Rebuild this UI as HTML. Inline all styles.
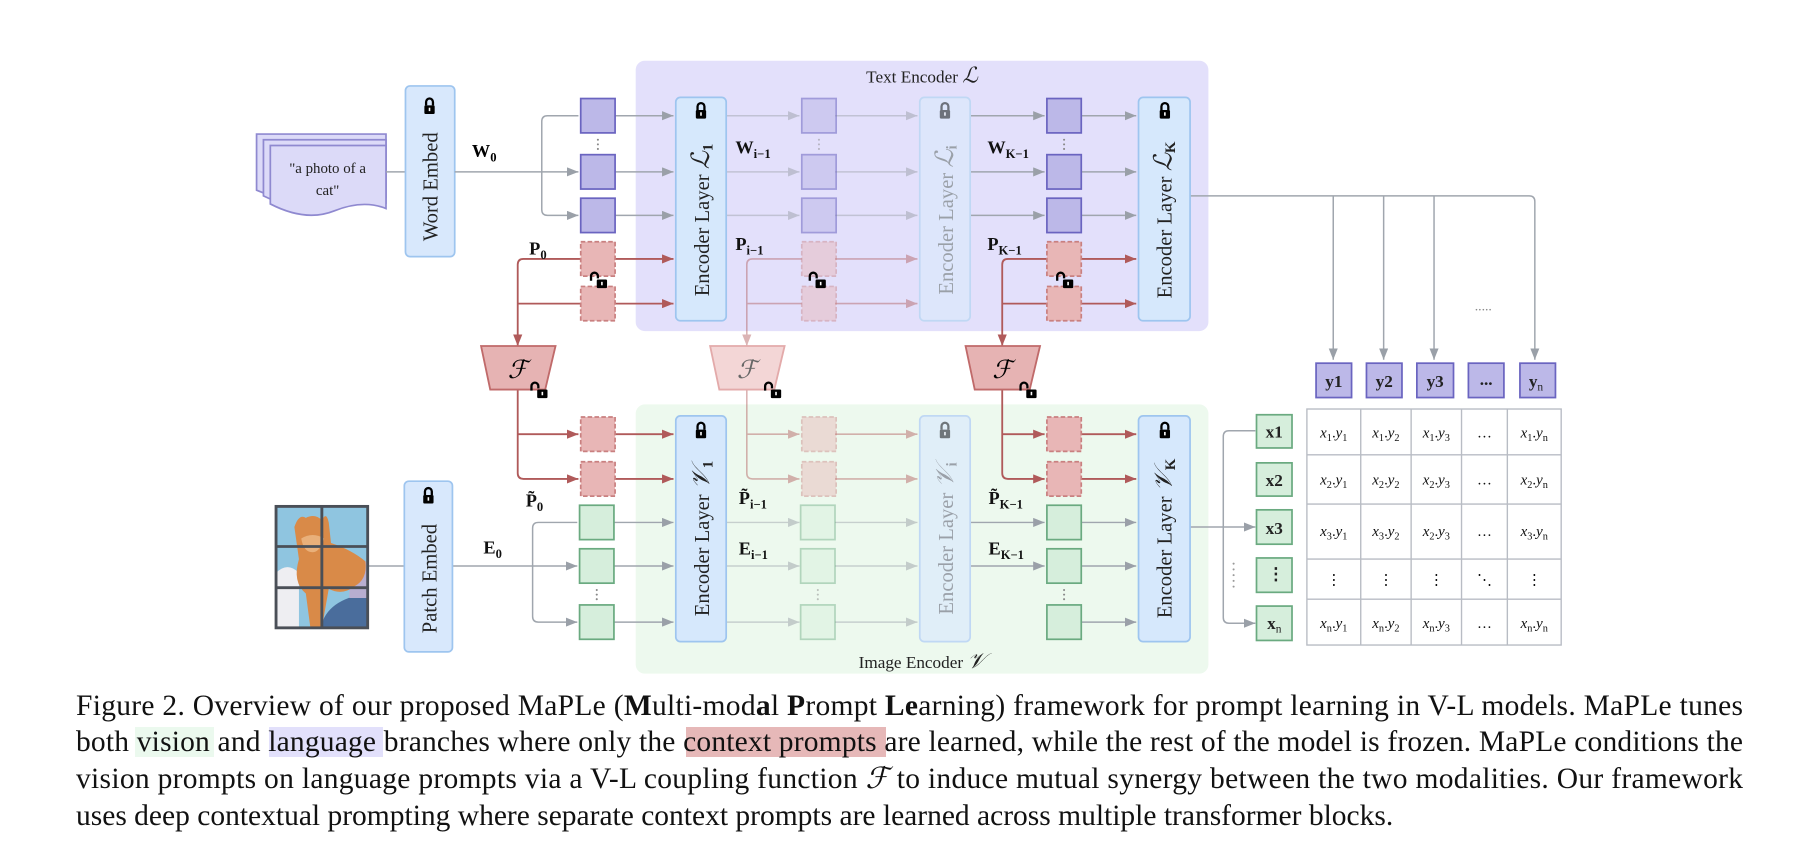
<!DOCTYPE html>
<html><head><meta charset="utf-8"><style>
html,body{margin:0;padding:0;background:#fff;}
svg{display:block;}
text{font-family:"Liberation Serif","DejaVu Serif",serif;}
</style></head><body>
<svg width="1796" height="857" viewBox="0 0 1796 857" xmlns="http://www.w3.org/2000/svg">
<defs>
<marker id="ag" viewBox="0 0 10 8" refX="10" refY="4" markerWidth="10" markerHeight="8" markerUnits="userSpaceOnUse" orient="auto"><path d="M0,0L10,4L0,8z" fill="#9aa0a8"/></marker>
<marker id="ar" viewBox="0 0 10 8" refX="10" refY="4" markerWidth="10" markerHeight="8" markerUnits="userSpaceOnUse" orient="auto"><path d="M0,0L10,4L0,8z" fill="#b05a5a"/></marker>
<g id="lock"><path d="M-3,0 v-3 a3,3 0 0 1 6,0 v3" fill="none" stroke="#000" stroke-width="2"/><rect x="-4.5" y="0" width="9" height="7.5" rx="1" fill="#000"/><rect x="-0.7" y="2" width="1.4" height="3" fill="#fff"/></g>
<g id="unlock"><path d="M-7,1 v-4 a3,3 0 0 1 6,0 v2" fill="none" stroke="#000" stroke-width="2"/><rect x="-2" y="0" width="9" height="7.5" rx="1" fill="#000"/><rect x="1.8" y="2" width="1.4" height="3" fill="#fff"/></g>
</defs>

<g transform="scale(1.1454,1.1457)">
<rect x="555" y="53" width="500" height="236" rx="8" fill="#e3e0fb"/>
<rect x="555" y="353" width="500" height="235" rx="8" fill="#edf9ee"/>
<text x="805" y="72" text-anchor="middle" font-size="15" fill="#222">Text Encoder <tspan font-style="italic" font-size="19">ℒ</tspan></text>
<text x="805" y="583" text-anchor="middle" font-size="15" fill="#222">Image Encoder <tspan font-style="italic" font-size="19">𝒱</tspan></text>

<g fill="#dcdaf8" stroke="#8f89d0" stroke-width="1.5">
<path d="M224,117 h113 v55 q-20,-8 -45,2 t-68,-8 z"/>
<path d="M230,122 h107 v55 q-20,-8 -45,2 t-62,-8 z"/>
<path d="M236,127 h101 v55 q-20,-8 -45,2 t-56,-6 z"/>
</g>
<text x="286" y="151" text-anchor="middle" font-size="13" fill="#222">"a photo of a</text>
<text x="286" y="170" text-anchor="middle" font-size="13" fill="#222">cat"</text>
<line x1="337" y1="150" x2="354" y2="150" stroke="#a0a6ae" stroke-width="1.3"/>

<rect x="354" y="75" width="43" height="149" rx="4" fill="#d8e8fc" stroke="#9ec5ef" stroke-width="1.5"/>
<text transform="translate(382,163) rotate(-90)" text-anchor="middle" font-size="18" fill="#222">Word Embed</text>
<use href="#lock" x="375" y="92"/>
<text x="412" y="137" font-size="16" font-weight="bold">W<tspan font-size="11" dy="4">0</tspan></text>

<g fill="none" stroke="#a0a6ae" stroke-width="1.3">
<path d="M397,150 H505" marker-end="url(#ag)"/>
<path d="M505,101 H478 q-5,0 -5,5 V183 q0,5 5,5 H505" marker-end="url(#ag)"/>
<path d="M537,101 H588" marker-end="url(#ag)"/>
<path d="M537,150 H588" marker-end="url(#ag)"/>
<path d="M537,188 H588" marker-end="url(#ag)"/>
<path d="M847,101 H912" marker-end="url(#ag)"/>
<path d="M847,150 H912" marker-end="url(#ag)"/>
<path d="M847,188 H912" marker-end="url(#ag)"/>
<path d="M944,101 H992" marker-end="url(#ag)"/>
<path d="M944,150 H992" marker-end="url(#ag)"/>
<path d="M944,188 H992" marker-end="url(#ag)"/>
<path d="M321,494 H353"/>
<path d="M395,494 H504" marker-end="url(#ag)"/>
<path d="M504,456 H470 q-5,0 -5,5 V538 q0,5 5,5 H504" marker-end="url(#ag)"/>
<path d="M536,456 H588" marker-end="url(#ag)"/>
<path d="M536,494 H588" marker-end="url(#ag)"/>
<path d="M536,543 H588" marker-end="url(#ag)"/>
<path d="M847,456 H912" marker-end="url(#ag)"/>
<path d="M847,494 H912" marker-end="url(#ag)"/>
<path d="M944,456 H992" marker-end="url(#ag)"/>
<path d="M944,494 H992" marker-end="url(#ag)"/>
<path d="M944,543 H992" marker-end="url(#ag)"/>
<path d="M1039,171 H1335 q5,0 5,5 V314" marker-end="url(#ag)"/>
<path d="M1164,171 V314" marker-end="url(#ag)"/>
<path d="M1208,171 V314" marker-end="url(#ag)"/>
<path d="M1252,171 V314" marker-end="url(#ag)"/>
<path d="M1039,460 H1068"/>
<path d="M1096,376 H1073 q-5,0 -5,5 V539 q0,5 5,5 H1096" marker-end="url(#ag)"/>
<path d="M1068,460 H1096" marker-end="url(#ag)"/>
</g>
<text x="1295" y="271" text-anchor="middle" font-size="12" fill="#888">.....</text>
<g fill="#999"><circle cx="1077" cy="492" r="0.9"/><circle cx="1077" cy="497" r="0.9"/><circle cx="1077" cy="502" r="0.9"/><circle cx="1077" cy="507" r="0.9"/><circle cx="1077" cy="512" r="0.9"/></g>

<g fill="none" stroke="#a0a6ae" stroke-width="1.3" opacity="0.5">
<path d="M634,101 H698" marker-end="url(#ag)"/>
<path d="M634,150 H698" marker-end="url(#ag)"/>
<path d="M634,188 H698" marker-end="url(#ag)"/>
<path d="M729,101 H801" marker-end="url(#ag)"/>
<path d="M729,150 H801" marker-end="url(#ag)"/>
<path d="M729,188 H801" marker-end="url(#ag)"/>
<path d="M634,456 H698" marker-end="url(#ag)"/>
<path d="M634,494 H698" marker-end="url(#ag)"/>
<path d="M729,456 H801" marker-end="url(#ag)"/>
<path d="M729,494 H801" marker-end="url(#ag)"/>
<path d="M634,543 H698" marker-end="url(#ag)"/>
<path d="M729,543 H801" marker-end="url(#ag)"/>
</g>

<g fill="none" stroke="#b05a5a" stroke-width="1.6">
<path d="M537,226 H588" marker-end="url(#ar)"/>
<path d="M537,265 H588" marker-end="url(#ar)"/>
<path d="M507,226 H457 q-5,0 -5,5 V302" marker-end="url(#ar)"/>
<path d="M507,265 H452"/>
<path d="M944,226 H992" marker-end="url(#ar)"/>
<path d="M944,265 H992" marker-end="url(#ar)"/>
<path d="M914,226 H880 q-5,0 -5,5 V302" marker-end="url(#ar)"/>
<path d="M914,265 H875"/>
<path d="M452,340 V413 q0,5 5,5 H505" marker-end="url(#ar)"/>
<path d="M452,379 H505" marker-end="url(#ar)"/>
<path d="M537,379 H588" marker-end="url(#ar)"/>
<path d="M537,418 H588" marker-end="url(#ar)"/>
<path d="M875,340 V413 q0,5 5,5 H912" marker-end="url(#ar)"/>
<path d="M875,379 H912" marker-end="url(#ar)"/>
<path d="M944,379 H992" marker-end="url(#ar)"/>
<path d="M944,418 H992" marker-end="url(#ar)"/>
</g>
<g fill="none" stroke="#b05a5a" stroke-width="1.4" opacity="0.45">
<path d="M729,226 H801" marker-end="url(#ar)"/>
<path d="M729,265 H801" marker-end="url(#ar)"/>
<path d="M700,226 H657 q-5,0 -5,5 V302" marker-end="url(#ar)"/>
<path d="M700,265 H652"/>
<path d="M652,340 V413 q0,5 5,5 H698" marker-end="url(#ar)"/>
<path d="M652,379 H698" marker-end="url(#ar)"/>
<path d="M729,379 H801" marker-end="url(#ar)"/>
<path d="M729,418 H801" marker-end="url(#ar)"/>
</g>

<g fill="#bcb8e8" stroke="#6a64c0" stroke-width="1.5">
<rect x="507" y="86" width="30" height="30"/><rect x="507" y="135" width="30" height="30"/><rect x="507" y="173" width="30" height="30"/>
<rect x="914" y="86" width="30" height="30"/><rect x="914" y="135" width="30" height="30"/><rect x="914" y="173" width="30" height="30"/>
</g>
<g fill="#bcb8e8" stroke="#6a64c0" stroke-width="1.5" opacity="0.55">
<rect x="700" y="86" width="30" height="30"/><rect x="700" y="135" width="30" height="30"/><rect x="700" y="173" width="30" height="30"/>
</g>
<g fill="#e8b6b6" stroke="#c98080" stroke-width="1.5" stroke-dasharray="4,2">
<rect x="507" y="211" width="30" height="30"/><rect x="507" y="250" width="30" height="30"/>
<rect x="914" y="211" width="30" height="30"/><rect x="914" y="250" width="30" height="30"/>
<rect x="507" y="364" width="30" height="30"/><rect x="507" y="403" width="30" height="30"/>
<rect x="914" y="364" width="30" height="30"/><rect x="914" y="403" width="30" height="30"/>
</g>
<g fill="#e8b6b6" stroke="#c98080" stroke-width="1.5" stroke-dasharray="4,2" opacity="0.45">
<rect x="700" y="211" width="30" height="30"/><rect x="700" y="250" width="30" height="30"/>
<rect x="700" y="364" width="30" height="30"/><rect x="700" y="403" width="30" height="30"/>
</g>
<g fill="#d6eedc" stroke="#6aaa80" stroke-width="1.5">
<rect x="506" y="441" width="30" height="30"/><rect x="506" y="479" width="30" height="30"/><rect x="506" y="528" width="30" height="30"/>
<rect x="914" y="441" width="30" height="30"/><rect x="914" y="479" width="30" height="30"/><rect x="914" y="528" width="30" height="30"/>
</g>
<g fill="#d6eedc" stroke="#6aaa80" stroke-width="1.5" opacity="0.45">
<rect x="699" y="441" width="30" height="30"/><rect x="699" y="479" width="30" height="30"/><rect x="699" y="528" width="30" height="30"/>
</g>
<g fill="#888">
<circle cx="522" cy="122" r="0.9"/><circle cx="522" cy="126" r="0.9"/><circle cx="522" cy="130" r="0.9"/>
<circle cx="929" cy="122" r="0.9"/><circle cx="929" cy="126" r="0.9"/><circle cx="929" cy="130" r="0.9"/>
<circle cx="715" cy="122" r="0.9" opacity="0.5"/><circle cx="715" cy="126" r="0.9" opacity="0.5"/><circle cx="715" cy="130" r="0.9" opacity="0.5"/>
<circle cx="521" cy="515" r="0.9"/><circle cx="521" cy="519" r="0.9"/><circle cx="521" cy="523" r="0.9"/>
<circle cx="929" cy="515" r="0.9"/><circle cx="929" cy="519" r="0.9"/><circle cx="929" cy="523" r="0.9"/>
<circle cx="714" cy="515" r="0.9" opacity="0.5"/><circle cx="714" cy="519" r="0.9" opacity="0.5"/><circle cx="714" cy="523" r="0.9" opacity="0.5"/>
</g>
<use href="#unlock" x="523" y="244"/>
<use href="#unlock" x="714" y="244"/>
<use href="#unlock" x="930" y="244"/>

<g stroke-width="1.5">
<rect x="590" y="85" width="44" height="195" rx="4" fill="#d6e8fc" stroke="#9ec5ef"/>
<rect x="803" y="85" width="44" height="195" rx="4" fill="#dde6fb" stroke="#c0d8f4"/>
<rect x="994" y="85" width="45" height="195" rx="4" fill="#d6e8fc" stroke="#9ec5ef"/>
<rect x="590" y="363" width="44" height="197" rx="4" fill="#d6e8fc" stroke="#9ec5ef"/>
<rect x="803" y="363" width="44" height="197" rx="4" fill="#e0eef8" stroke="#c0d8f4"/>
<rect x="994" y="363" width="45" height="197" rx="4" fill="#d6e8fc" stroke="#9ec5ef"/>
</g>
<g font-size="18" fill="#222" text-anchor="middle">
<text transform="translate(619,192) rotate(-90)">Encoder Layer <tspan font-style="italic" font-size="22">ℒ</tspan><tspan font-size="13" font-weight="bold" dy="3">1</tspan></text>
<text transform="translate(832,192) rotate(-90)" fill="#9aa0a8">Encoder Layer <tspan font-style="italic" font-size="22">ℒ</tspan><tspan font-size="13" font-weight="bold" dy="3">i</tspan></text>
<text transform="translate(1023,192) rotate(-90)">Encoder Layer <tspan font-style="italic" font-size="22">ℒ</tspan><tspan font-size="13" font-weight="bold" dy="3">K</tspan></text>
<text transform="translate(619,470) rotate(-90)">Encoder Layer <tspan font-style="italic" font-size="22">𝒱</tspan><tspan font-size="13" font-weight="bold" dy="3">1</tspan></text>
<text transform="translate(832,470) rotate(-90)" fill="#9aa0a8">Encoder Layer <tspan font-style="italic" font-size="22">𝒱</tspan><tspan font-size="13" font-weight="bold" dy="3">i</tspan></text>
<text transform="translate(1023,470) rotate(-90)">Encoder Layer <tspan font-style="italic" font-size="22">𝒱</tspan><tspan font-size="13" font-weight="bold" dy="3">K</tspan></text>
</g>
<use href="#lock" x="612" y="96"/>
<use href="#lock" x="825" y="96" opacity="0.5"/>
<use href="#lock" x="1017" y="96"/>
<use href="#lock" x="612" y="375"/>
<use href="#lock" x="825" y="375" opacity="0.5"/>
<use href="#lock" x="1017" y="375"/>

<g stroke-width="1.6">
<path d="M420,302 H485 L476,340 H428 Z" fill="#e6b3b3" stroke="#c06a6a"/>
<path d="M620,302 H685 L676,340 H628 Z" fill="#f3d6d6" stroke="#e3aaaa"/>
<path d="M843,302 H908 L899,340 H851 Z" fill="#e6b3b3" stroke="#c06a6a"/>
</g>
<text x="452" y="330" text-anchor="middle" font-size="22" font-style="italic">ℱ</text>
<text x="652" y="330" text-anchor="middle" font-size="22" font-style="italic" fill="#666">ℱ</text>
<text x="875" y="330" text-anchor="middle" font-size="22" font-style="italic">ℱ</text>
<use href="#unlock" x="471" y="340"/>
<use href="#unlock" x="675" y="340"/>
<use href="#unlock" x="898" y="340"/>

<g font-size="16" font-weight="bold" fill="#111">
<text x="462" y="222">P<tspan font-size="11" dy="4">0</tspan></text>
<text x="642" y="134">W<tspan font-size="11" dy="4">i−1</tspan></text>
<text x="642" y="218">P<tspan font-size="11" dy="4">i−1</tspan></text>
<text x="862" y="134">W<tspan font-size="11" dy="4">K−1</tspan></text>
<text x="862" y="218">P<tspan font-size="11" dy="4">K−1</tspan></text>
<text x="459" y="442">P̃<tspan font-size="11" dy="4">0</tspan></text>
<text x="422" y="483">E<tspan font-size="11" dy="4">0</tspan></text>
<text x="645" y="440">P̃<tspan font-size="11" dy="4">i−1</tspan></text>
<text x="645" y="484">E<tspan font-size="11" dy="4">i−1</tspan></text>
<text x="863" y="440">P̃<tspan font-size="11" dy="4">K−1</tspan></text>
<text x="863" y="484">E<tspan font-size="11" dy="4">K−1</tspan></text>
</g>

<g>
<rect x="241" y="442" width="80" height="106" fill="#8fc5e0"/>
<path d="M241,500 q10,-10 20,0 v48 h-20z" fill="#eeeef2"/>
<path d="M280,548 q5,-25 41,-30 v30z" fill="#4a6d9c"/>
<path d="M305,492 q10,-8 16,0 v30 h-16z" fill="#b8aed0"/>
<path d="M257,460 q4,-12 10,-8 q8,-4 14,2 q4,-8 6,2 l2,18 q18,6 30,16 q2,16 -10,22 q-10,8 -22,2 l-6,34 h-10 l-4,-30 q-12,-10 -6,-30 z" fill="#d98a48"/>
<path d="M263,470 q10,-6 20,0 q-4,12 -10,12 q-8,0 -10,-12z" fill="#e9b07a"/>
<g stroke="#4a4f57" stroke-width="2.5" fill="none">
<rect x="241" y="442" width="80" height="106"/>
<line x1="281" y1="442" x2="281" y2="548"/>
<line x1="241" y1="477" x2="321" y2="477"/>
<line x1="241" y1="513" x2="321" y2="513"/>
</g>
</g>

<rect x="353" y="420" width="42" height="149" rx="4" fill="#d8e8fc" stroke="#9ec5ef" stroke-width="1.5"/>
<text transform="translate(381,505) rotate(-90)" text-anchor="middle" font-size="18" fill="#222">Patch Embed</text>
<use href="#lock" x="374" y="432"/>

<g fill="#bcb8e8" stroke="#6a64c0" stroke-width="1.5">
<rect x="1149" y="317" width="31" height="30"/><rect x="1193" y="317" width="31" height="30"/><rect x="1237" y="317" width="32" height="30"/><rect x="1282" y="317" width="31" height="30"/><rect x="1327" y="317" width="31" height="30"/>
</g>
<g font-size="15" font-weight="bold" fill="#222" text-anchor="middle">
<text x="1164.5" y="338">y1</text><text x="1208.5" y="338">y2</text><text x="1253" y="338">y3</text><text x="1297.5" y="336">...</text><text x="1341" y="338">y<tspan font-size="10" dy="3" font-weight="normal">n</tspan></text>
</g>
<g fill="#d6eedc" stroke="#6aaa80" stroke-width="1.5">
<rect x="1097" y="362" width="31" height="29"/><rect x="1097" y="404" width="31" height="29"/><rect x="1097" y="445" width="31" height="30"/><rect x="1097" y="487" width="31" height="30"/><rect x="1097" y="529" width="31" height="30"/>
</g>
<g font-size="15" font-weight="bold" fill="#222" text-anchor="middle">
<text x="1112.5" y="382">x1</text><text x="1112.5" y="424">x2</text><text x="1112.5" y="466">x3</text><text x="1114" y="506">⋮</text><text x="1112.5" y="549">x<tspan font-size="10" dy="3" font-weight="normal">n</tspan></text>
</g>

<g stroke="#b8bcc4" stroke-width="1.2" fill="none">
<rect x="1141" y="357" width="222" height="206" fill="#fff"/>
<line x1="1188" y1="357" x2="1188" y2="563"/><line x1="1232" y1="357" x2="1232" y2="563"/><line x1="1276" y1="357" x2="1276" y2="563"/><line x1="1316" y1="357" x2="1316" y2="563"/>
<line x1="1141" y1="397" x2="1363" y2="397"/><line x1="1141" y1="440" x2="1363" y2="440"/><line x1="1141" y1="488" x2="1363" y2="488"/><line x1="1141" y1="523" x2="1363" y2="523"/>
</g>
<g font-family="'DejaVu Sans',sans-serif" font-size="13" fill="#111" text-anchor="middle">
<text x="1164.5" y="382"><tspan font-style="italic">x</tspan><tspan font-size="9" dy="3">1</tspan><tspan dy="-3">.</tspan><tspan font-style="italic">y</tspan><tspan font-size="9" dy="3">1</tspan></text>
<text x="1210" y="382"><tspan font-style="italic">x</tspan><tspan font-size="9" dy="3">1</tspan><tspan dy="-3">.</tspan><tspan font-style="italic">y</tspan><tspan font-size="9" dy="3">2</tspan></text>
<text x="1254" y="382"><tspan font-style="italic">x</tspan><tspan font-size="9" dy="3">1</tspan><tspan dy="-3">.</tspan><tspan font-style="italic">y</tspan><tspan font-size="9" dy="3">3</tspan></text>
<text x="1296" y="382">…</text>
<text x="1339.5" y="382"><tspan font-style="italic">x</tspan><tspan font-size="9" dy="3">1</tspan><tspan dy="-3">.</tspan><tspan font-style="italic">y</tspan><tspan font-size="9" dy="3">n</tspan></text>
<text x="1164.5" y="423"><tspan font-style="italic">x</tspan><tspan font-size="9" dy="3">2</tspan><tspan dy="-3">.</tspan><tspan font-style="italic">y</tspan><tspan font-size="9" dy="3">1</tspan></text>
<text x="1210" y="423"><tspan font-style="italic">x</tspan><tspan font-size="9" dy="3">2</tspan><tspan dy="-3">.</tspan><tspan font-style="italic">y</tspan><tspan font-size="9" dy="3">2</tspan></text>
<text x="1254" y="423"><tspan font-style="italic">x</tspan><tspan font-size="9" dy="3">2</tspan><tspan dy="-3">.</tspan><tspan font-style="italic">y</tspan><tspan font-size="9" dy="3">3</tspan></text>
<text x="1296" y="423">…</text>
<text x="1339.5" y="423"><tspan font-style="italic">x</tspan><tspan font-size="9" dy="3">2</tspan><tspan dy="-3">.</tspan><tspan font-style="italic">y</tspan><tspan font-size="9" dy="3">n</tspan></text>
<text x="1164.5" y="468"><tspan font-style="italic">x</tspan><tspan font-size="9" dy="3">3</tspan><tspan dy="-3">.</tspan><tspan font-style="italic">y</tspan><tspan font-size="9" dy="3">1</tspan></text>
<text x="1210" y="468"><tspan font-style="italic">x</tspan><tspan font-size="9" dy="3">3</tspan><tspan dy="-3">.</tspan><tspan font-style="italic">y</tspan><tspan font-size="9" dy="3">2</tspan></text>
<text x="1254" y="468"><tspan font-style="italic">x</tspan><tspan font-size="9" dy="3">2</tspan><tspan dy="-3">.</tspan><tspan font-style="italic">y</tspan><tspan font-size="9" dy="3">3</tspan></text>
<text x="1296" y="468">…</text>
<text x="1339.5" y="468"><tspan font-style="italic">x</tspan><tspan font-size="9" dy="3">3</tspan><tspan dy="-3">.</tspan><tspan font-style="italic">y</tspan><tspan font-size="9" dy="3">n</tspan></text>
<text x="1164.5" y="510">⋮</text><text x="1210" y="510">⋮</text><text x="1254" y="510">⋮</text><text x="1296" y="510">⋱</text><text x="1339.5" y="510">⋮</text>
<text x="1164.5" y="548"><tspan font-style="italic">x</tspan><tspan font-size="9" dy="3">n</tspan><tspan dy="-3">.</tspan><tspan font-style="italic">y</tspan><tspan font-size="9" dy="3">1</tspan></text>
<text x="1210" y="548"><tspan font-style="italic">x</tspan><tspan font-size="9" dy="3">n</tspan><tspan dy="-3">.</tspan><tspan font-style="italic">y</tspan><tspan font-size="9" dy="3">2</tspan></text>
<text x="1254" y="548"><tspan font-style="italic">x</tspan><tspan font-size="9" dy="3">n</tspan><tspan dy="-3">.</tspan><tspan font-style="italic">y</tspan><tspan font-size="9" dy="3">3</tspan></text>
<text x="1296" y="548">…</text>
<text x="1339.5" y="548"><tspan font-style="italic">x</tspan><tspan font-size="9" dy="3">n</tspan><tspan dy="-3">.</tspan><tspan font-style="italic">y</tspan><tspan font-size="9" dy="3">n</tspan></text>
</g>
</g>

<!-- caption (real coords) -->
<rect x="135" y="727" width="79" height="30" fill="#ebf9ee"/>
<rect x="269" y="727" width="114" height="30" fill="#e2e0fb"/>
<rect x="686" y="727" width="200" height="30" fill="#e6b8b8"/>
<g font-size="29.5" fill="#111">
<text x="76" y="715" textLength="1667" lengthAdjust="spacing">Figure 2. Overview of our proposed MaPLe (<tspan font-weight="bold">M</tspan>ulti-mod<tspan font-weight="bold">a</tspan>l <tspan font-weight="bold">P</tspan>rompt <tspan font-weight="bold">Le</tspan>arning) framework for prompt learning in V-L models. MaPLe tunes</text>
<text x="76" y="751" textLength="1667" lengthAdjust="spacing">both vision and language branches where only the context prompts are learned, while the rest of the model is frozen. MaPLe conditions the</text>
<text x="76" y="788" textLength="1667" lengthAdjust="spacing">vision prompts on language prompts via a V-L coupling function <tspan font-style="italic">ℱ</tspan> to induce mutual synergy between the two modalities. Our framework</text>
<text x="76" y="825">uses deep contextual prompting where separate context prompts are learned across multiple transformer blocks.</text>
</g>
</svg>
</body></html>
